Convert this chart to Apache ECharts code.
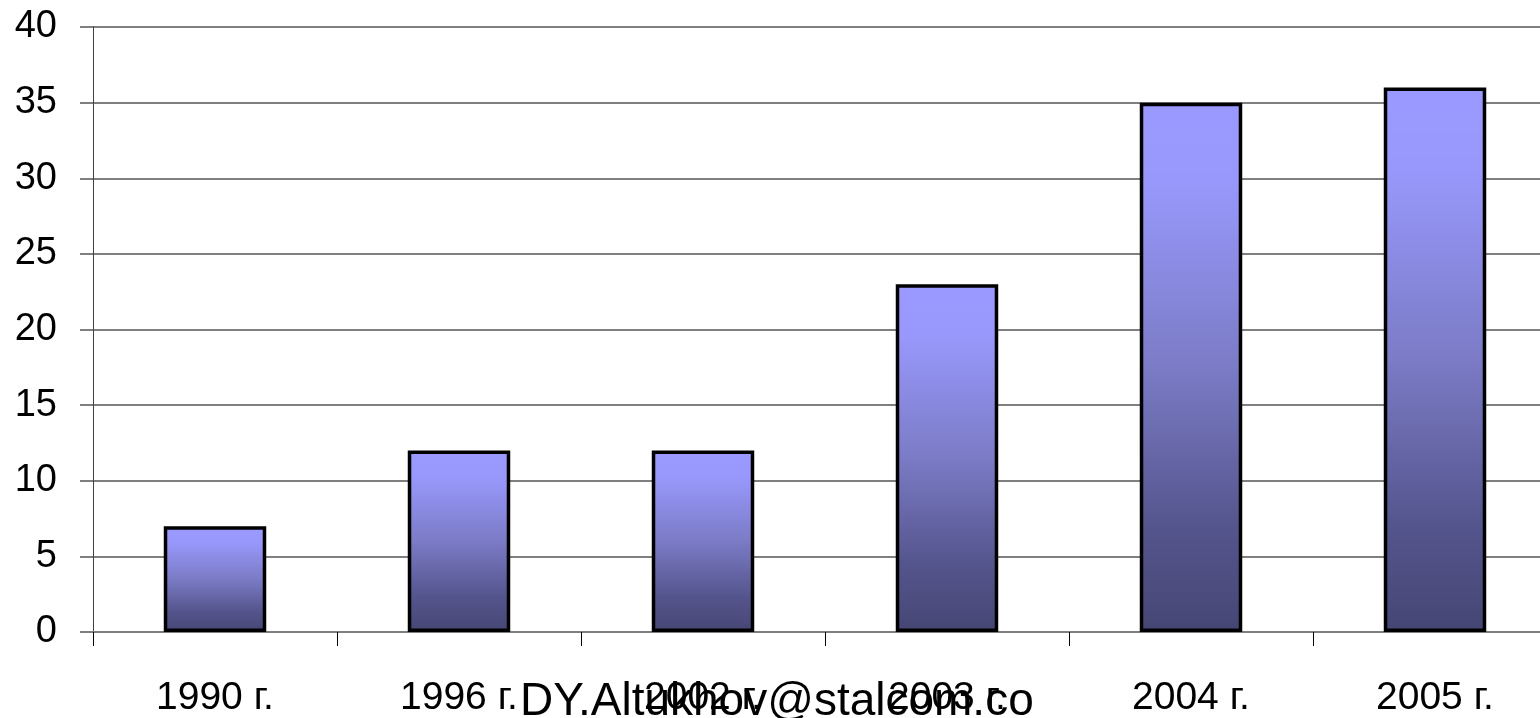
<!DOCTYPE html>
<html>
<head>
<meta charset="utf-8">
<script src="https://cdn.jsdelivr.net/npm/echarts@6/dist/echarts.min.js"></script>
<style>
  html, body { margin: 0; padding: 0; background: #fff; overflow: hidden; }
  /* the plot runs slightly past the right edge of the window */
  #chart { width: 1557px; height: 718px; }
</style>
</head>
<body>
<div id="chart"></div>
<script>
// Years shown along the horizontal axis
const categories = ['1990 г.', '1996 г.', '2002 г.', '2003 г.', '2004 г.', '2005 г.'];
// Bar heights
const values = [7, 12, 12, 23, 35, 36];
// Vertical axis range and step
const yMin = 0;
const yMax = 40;
const yStep = 5;
const signature = 'DY.Altukhov@stalcom.co';

const chart = echarts.init(document.getElementById('chart'));

const barFill = new echarts.graphic.LinearGradient(0, 0, 0, 1, [
  { offset: 0, color: '#9999ff' },
  { offset: 0.15, color: '#9898fc' },
  { offset: 0.5, color: '#7b7bc6' },
  { offset: 0.8, color: '#55558e' },
  { offset: 1, color: '#464674' }
]);

chart.setOption({
  animation: false,
  backgroundColor: '#ffffff',
  grid: { left: 93, top: 27, bottom: 85, right: 0, containLabel: false },
  xAxis: {
    type: 'category',
    data: categories,
    boundaryGap: true,
    axisLine: { show: true, lineStyle: { color: '#7f7f7f', width: 2 } },
    axisTick: { show: true, length: 14, inside: false, lineStyle: { color: '#000', width: 1 } },
    axisLabel: {
      margin: 47,
      color: '#000',
      fontFamily: 'Liberation Sans, Arial, sans-serif',
      fontSize: 39
    },
    splitLine: { show: false }
  },
  yAxis: {
    type: 'value',
    min: yMin,
    max: yMax,
    interval: yStep,
    axisLine: { show: true, lineStyle: { color: '#404040', width: 1 } },
    axisTick: { show: true, length: 13, lineStyle: { color: '#7f7f7f', width: 2 } },
    axisLabel: {
      margin: 36,
      color: '#000',
      fontFamily: 'Liberation Sans, Arial, sans-serif',
      fontSize: 38
    },
    splitLine: { show: true, lineStyle: { color: '#7f7f7f', width: 2 } }
  },
  series: [{
    type: 'bar',
    data: values,
    barWidth: '42%',
    itemStyle: {
      color: barFill,
      borderColor: '#000',
      borderWidth: 3.5
    }
  }],
  graphic: [{
    type: 'text',
    left: 520,
    top: 679,
    silent: true,
    style: {
      text: signature,
      fill: '#000',
      font: '46px "Liberation Sans", Arial, sans-serif'
    }
  }]
});
</script>
</body>
</html>
